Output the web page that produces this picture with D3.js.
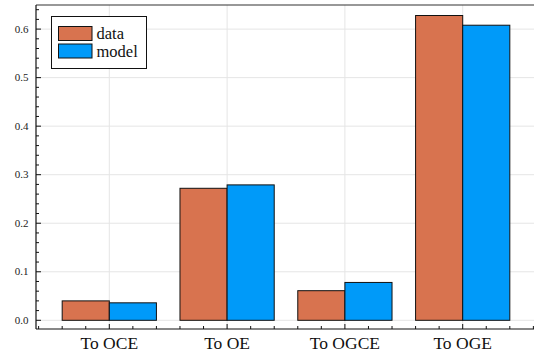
<!DOCTYPE html>
<html><head><meta charset="utf-8">
<script src="https://cdn.jsdelivr.net/npm/d3@7"></script>
<style>body{margin:0;background:#fff}svg{display:block}</style>
</head><body>
<svg id="c" width="534" height="356"></svg>
<script>
const categories = ["To OCE", "To OE", "To OGCE", "To OGE"];
const dataValues = [0.040, 0.272, 0.061, 0.628];
const modelValues = [0.036, 0.279, 0.078, 0.608];
const seriesNames = ["data", "model"];
const yTicks = [0.0, 0.1, 0.2, 0.3, 0.4, 0.5, 0.6];
const yTickLabels = ["0.0", "0.1", "0.2", "0.3", "0.4", "0.5", "0.6"];

(function () {
const colors = ["#d8734f", "#009af9"];
const svg = d3.select("#c");
const pL = 36, pR = 534, pT = 5, pB = 329;

const x = d3.scaleLinear().domain([1, 4]).range([109.3, 462.7]);
const y = d3.scaleLinear().domain([0, 0.6]).range([320.3, 29.1]);
const font = "'Liberation Serif', serif";

// grid
const g = svg.append("g");
g.selectAll(".hg").data(yTicks).enter().append("line")
  .attr("x1", pL).attr("x2", pR)
  .attr("y1", d => y(d)).attr("y2", d => y(d))
  .attr("stroke", "#e5e5e5").attr("stroke-width", 1);
g.selectAll(".vg").data(categories).enter().append("line")
  .attr("x1", (d, i) => x(i + 1)).attr("x2", (d, i) => x(i + 1))
  .attr("y1", pT).attr("y2", pB)
  .attr("stroke", "#e5e5e5").attr("stroke-width", 1);

// bars
const bw = 0.4;
[dataValues, modelValues].forEach((vals, s) => {
  svg.append("g").selectAll("rect").data(vals).enter().append("rect")
    .attr("x", (d, i) => x(i + 1 - bw + s * bw))
    .attr("width", (d, i) => x(i + 1 + s * bw) - x(i + 1 - bw + s * bw))
    .attr("y", d => y(d))
    .attr("height", d => y(0) - y(d))
    .attr("fill", colors[s])
    .attr("stroke", "#111").attr("stroke-width", 1);
});

// frame
svg.append("line").attr("x1", pL).attr("x2", pR).attr("y1", pT).attr("y2", pT)
  .attr("stroke", "#333").attr("stroke-width", 1.2);
svg.append("line").attr("x1", pL).attr("x2", pL).attr("y1", pT).attr("y2", pB)
  .attr("stroke", "#111").attr("stroke-width", 1.2);
svg.append("line").attr("x1", pL).attr("x2", pR).attr("y1", pB).attr("y2", pB)
  .attr("stroke", "#111").attr("stroke-width", 1.2);

// y ticks
const yMinor = d3.range(-1, 33).map(i => i * 0.02).filter(v => Math.abs(v * 10 - Math.round(v * 10)) > 1e-6);
svg.append("g").selectAll("line").data(yMinor.filter(v => y(v) > pT && y(v) < pB)).enter().append("line")
  .attr("x1", pL).attr("x2", pL + 3).attr("y1", d => y(d)).attr("y2", d => y(d))
  .attr("stroke", "#111").attr("stroke-width", 1);
svg.append("g").selectAll("line").data(yTicks).enter().append("line")
  .attr("x1", pL).attr("x2", pL + 5).attr("y1", d => y(d)).attr("y2", d => y(d))
  .attr("stroke", "#111").attr("stroke-width", 1);
svg.append("g").selectAll("text").data(yTicks).enter().append("text")
  .attr("x", 28.5).attr("y", d => y(d) + 3.7).attr("text-anchor", "end")
  .attr("font-family", font).attr("font-size", 11).attr("fill", "#222")
  .text((d, i) => yTickLabels[i]);

// x ticks
const xMinor = d3.range(2, 24).map(i => i * 0.2).filter(v => Math.abs(v - Math.round(v)) > 1e-6);
svg.append("g").selectAll("line").data(xMinor).enter().append("line")
  .attr("x1", d => x(d)).attr("x2", d => x(d)).attr("y1", pB).attr("y2", pB - 3)
  .attr("stroke", "#111").attr("stroke-width", 1);
svg.append("g").selectAll("line").data(categories).enter().append("line")
  .attr("x1", (d, i) => x(i + 1)).attr("x2", (d, i) => x(i + 1)).attr("y1", pB).attr("y2", pB - 5)
  .attr("stroke", "#111").attr("stroke-width", 1);
svg.append("g").selectAll("text").data(categories).enter().append("text")
  .attr("x", (d, i) => x(i + 1)).attr("y", 348.7).attr("text-anchor", "middle")
  .attr("font-family", font).attr("font-size", 17.5).attr("fill", "#111")
  .text(d => d);

// legend
const lg = svg.append("g");
lg.append("rect").attr("x", 51.5).attr("y", 16.5).attr("width", 95).attr("height", 52)
  .attr("fill", "#fff").attr("stroke", "#111").attr("stroke-width", 1);
seriesNames.forEach((n, i) => {
  lg.append("rect").attr("x", 58.5).attr("y", 26.5 + i * 17.5).attr("width", 33.5).attr("height", 14)
    .attr("fill", colors[i]).attr("stroke", "#111").attr("stroke-width", 1);
  lg.append("text").attr("x", 96.5).attr("y", 39 + i * 17.5)
    .attr("font-family", font).attr("font-size", 16.5).attr("fill", "#111").text(n);
});
})();
</script>
</body></html>
